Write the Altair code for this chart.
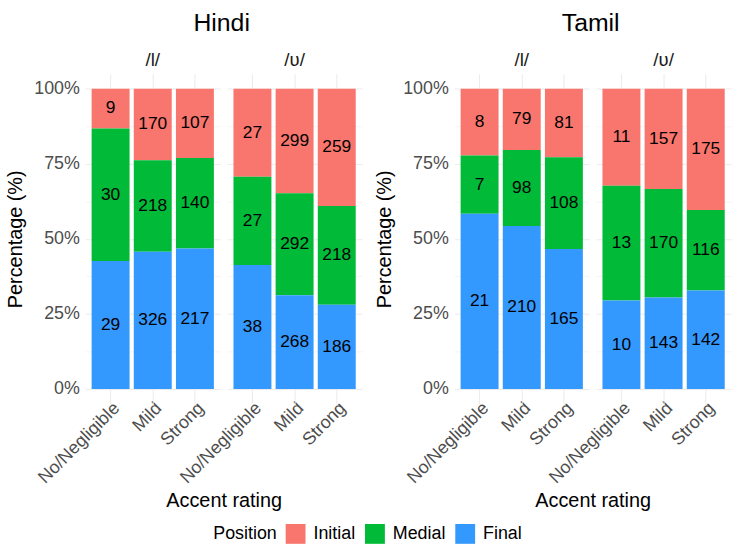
import altair as alt
import pandas as pd

languages = ["Hindi", "Tamil"]
phonemes = ["/l/", "/ʋ/"]
accents = ["No/Negligible", "Mild", "Strong"]
positions = ["Initial", "Medial", "Final"]
colors = ["#F8766D", "#00BA38", "#3399FF"]

# per accent: (Initial, Medial, Final)
hindi_l = [(9, 30, 29), (170, 218, 326), (107, 140, 217)]
hindi_v = [(27, 27, 38), (299, 292, 268), (259, 218, 186)]
tamil_l = [(8, 7, 21), (79, 98, 210), (81, 108, 165)]
tamil_v = [(11, 13, 10), (157, 170, 143), (175, 116, 142)]

counts = {
    ("Hindi", "/l/"): hindi_l,
    ("Hindi", "/ʋ/"): hindi_v,
    ("Tamil", "/l/"): tamil_l,
    ("Tamil", "/ʋ/"): tamil_v,
}

rows = []
for (lang, ph), per_acc in counts.items():
    for acc, trio in zip(accents, per_acc):
        for k, (pos, n) in enumerate(zip(positions, trio)):
            rows.append({"lang": lang, "phon": ph, "accent": acc, "pos": pos,
                         "n": n, "order": 2 - k})
df = pd.DataFrame(rows)

FONT = "Liberation Sans"
GRID = "#EBEBEB"


def panel(lang):
    base = (
        alt.Chart(df)
        .transform_filter(alt.datum.lang == lang)
        .transform_stack(
            stack="n",
            groupby=["phon", "accent"],
            as_=["y0", "y1"],
            offset="normalize",
            sort=[alt.SortField("order", order="ascending")],
        )
        .transform_calculate(ymid="(datum.y0 + datum.y1) / 2")
    )
    xenc = alt.X(
        "accent:N",
        sort=accents,
        title=None,
        scale=alt.Scale(paddingInner=0.1, paddingOuter=0.15),
        axis=alt.Axis(
            labelAngle=-45,
            labelAlign="right",
            labelBaseline="top",
            labelFontSize=18,
            labelColor="#4D4D4D",
            labelPadding=-5,
            ticks=False,
            domain=False,
            grid=True,
            gridColor=GRID,
            bandPosition=0.5,
        ),
    )
    yscale = alt.Scale(domain=[-0.05, 1.05], nice=False, zero=False)
    bars = base.mark_bar().encode(
        x=xenc,
        y=alt.Y(
            "y0:Q",
            scale=yscale,
            title="Percentage (%)",
            axis=alt.Axis(
                values=[0, 0.125, 0.25, 0.375, 0.5, 0.625, 0.75, 0.875, 1],
                labelExpr="datum.value * 4 % 1 == 0 ? format(datum.value, '.0%') : ''",
                labelFontSize=18,
                labelColor="#4D4D4D",
                labelPadding=6,
                titleFontSize=20,
                titleFontWeight="normal",
                titleColor="black",
                titlePadding=8,
                ticks=False,
                domain=False,
                gridColor=GRID,
                gridWidth={"condition": {"test": "datum.value * 4 % 1 == 0", "value": 1}, "value": 0.5},
            ),
        ),
        y2="y1:Q",
        color=alt.Color(
            "pos:N",
            scale=alt.Scale(domain=positions, range=colors),
            legend=alt.Legend(
                title="Position",
                orient="none",
                legendX=129,
                legendY=454,
                direction="horizontal",
                titleOrient="left",
                titleFontSize=18,
                titleFontWeight="normal",
                titleColor="black",
                titlePadding=8,
                labelFontSize=18,
                labelColor="black",
                symbolType="square",
                symbolSize=400,
                symbolStrokeWidth=0,
                symbolOpacity=1,
                columnPadding=9,
                labelOffset=8,
            ),
        ),
    )
    text = base.mark_text(fontSize=17.5, color="black").encode(
        x=alt.X("accent:N", sort=accents),
        y=alt.Y("ymid:Q", scale=yscale),
        text="n:Q",
    )
    return (
        alt.layer(bars, text)
        .properties(width=136, height=333)
        .facet(
            column=alt.Column(
                "phon:N",
                sort=phonemes,
                title="Accent rating",
                header=alt.Header(
                    labelOrient="top",
                    titleOrient="bottom",
                    labelFontSize=19,
                    labelColor="#1A1A1A",
                    labelPadding=4,
                    titleFontSize=20,
                    titleFontWeight="normal",
                    titleColor="black",
                    titlePadding=-6,
                ),
            ),
            spacing=7,
        )
        .properties(
            title=alt.TitleParams(lang, fontSize=25, fontWeight="normal", anchor="middle",
                                  dx=38, color="black", offset=15)
        )
    )


chart = (
    alt.hconcat(panel("Hindi"), panel("Tamil"), spacing=12)
    .properties(padding={"left": 5, "right": 5, "top": 9, "bottom": 5})
    .configure(font=FONT)
    .configure_view(stroke=None)
)

chart.save("out.html", embed_options={"renderer": "svg", "actions": False})
